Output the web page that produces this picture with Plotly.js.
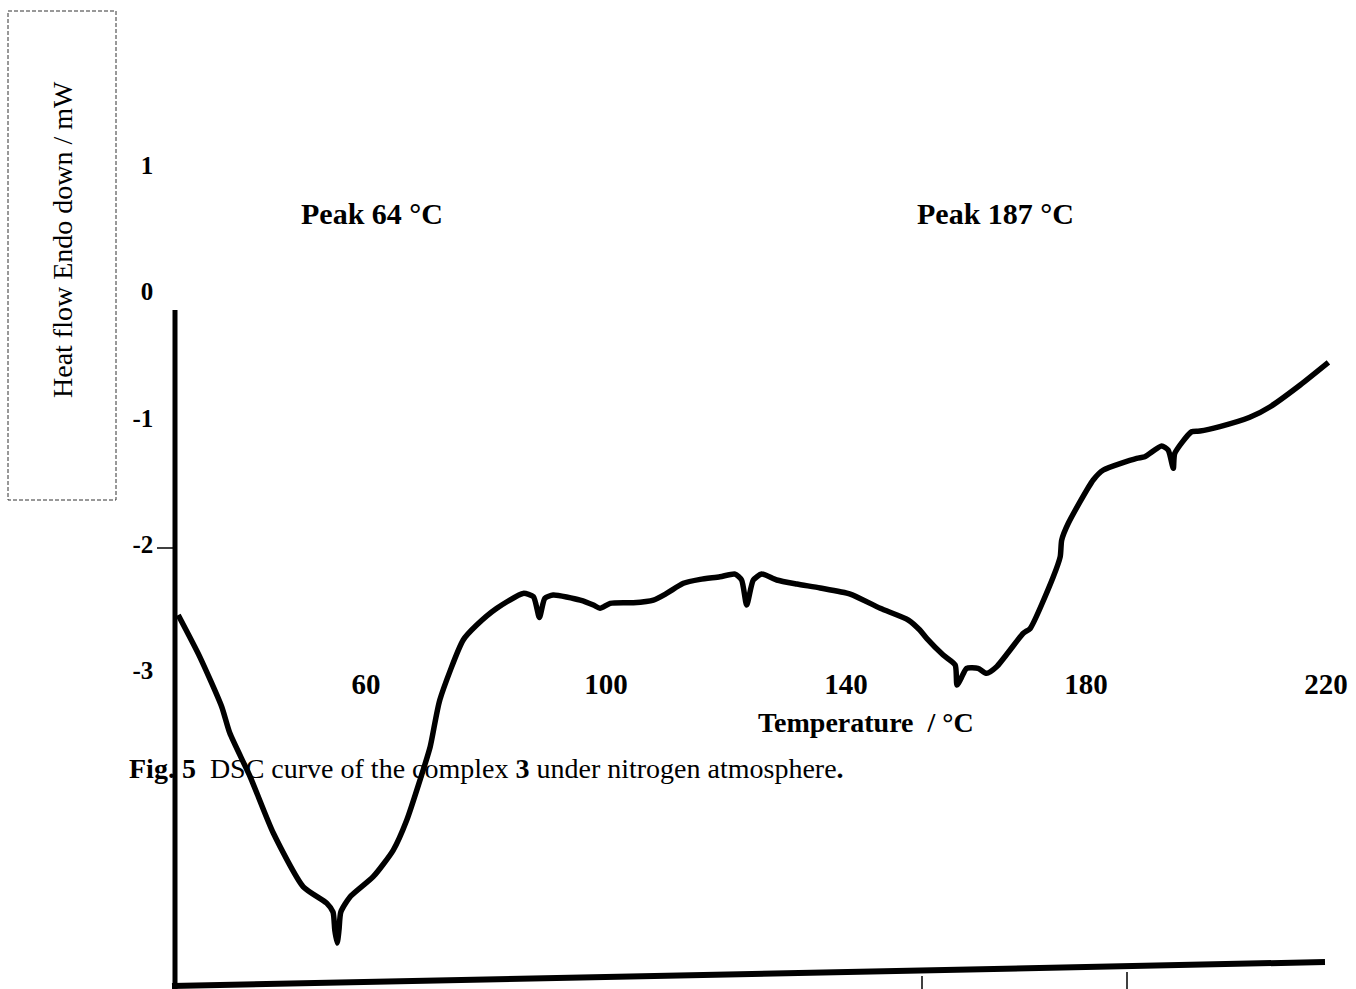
<!DOCTYPE html>
<html>
<head>
<meta charset="utf-8">
<script src="https://cdn.plot.ly/plotly-3.0.1.min.js"></script>
<style>html,body{margin:0;padding:0;background:#fff;}#chart{width:1356px;height:989px;}</style>
</head>
<body>
<div id="chart"></div>
<script>
// Temperature (°C)
const temperature = [28.7, 32.3, 35.95, 37.3, 40.7, 44.55, 49.55, 53.45, 54.5, 54.8, 55.2, 55.5, 55.8, 57.3,
  61.2, 64.55, 66.8, 69, 70.7, 72.3, 76.2, 78.45, 81.8, 86.2, 87.9, 88.9, 89.8, 91.2, 95.7, 97.9, 99,
  100.7, 104.55, 107.9, 110.1, 112.9, 115.7, 119, 121.5, 122.6, 123.45, 124.55, 125.95, 128.45, 131.8,
  135.7, 140.7, 145.7, 150.4, 152.3, 153.45, 156.2, 158.2, 158.5, 159.2, 160.1, 162, 163.45, 165.1,
  169.55, 170.7, 174.55, 175.7, 175.95, 177.05, 181.2, 182.9, 188.45, 189.8, 192.6, 193.7, 194.55,
  194.8, 197.6, 199, 202.3, 207.3, 210.7, 215.7, 220.4];
// Heat flow (mW)
const heatFlow = [-2.561, -2.892, -3.287, -3.496, -3.842, -4.287, -4.713, -4.842, -4.913, -5.055, -5.158, -5.055, -4.913, -4.795,
  -4.633, -4.422, -4.184, -3.868, -3.604, -3.234, -2.759, -2.641, -2.508, -2.390, -2.416, -2.580, -2.429, -2.403, -2.443, -2.482, -2.508,
  -2.469, -2.464, -2.443, -2.390, -2.310, -2.279, -2.258, -2.237, -2.284, -2.482, -2.284, -2.237, -2.284, -2.316,
  -2.347, -2.395, -2.508, -2.601, -2.680, -2.746, -2.878, -2.957, -3.116, -3.060, -2.983, -2.983, -3.023, -2.971,
  -2.706, -2.667, -2.258, -2.100, -1.968, -1.835, -1.492, -1.413, -1.321, -1.308, -1.223, -1.255, -1.400,
  -1.281, -1.110, -1.105, -1.070, -0.996, -0.912, -0.740, -0.561];

const xTickVals = [60, 100, 140, 180, 220];
const xTickText = ['60', '100', '140', '180', '220'];
const yTickVals = [1, 0, -1, -2, -3];
const yTickText = ['1', '0', '-1', '-2', '-3'];

const peakLabels = ['Peak 64 °C', 'Peak 187 °C'];
const xTitle = 'Temperature  / °C';
const yTitle = 'Heat flow Endo down / mW';
const caption = '<b>Fig. 5</b>  DSC curve of the complex <b>3</b> under nitrogen atmosphere<b>.</b>';

const W = 1356, H = 989;
const px = v => v / W;
const py = v => 1 - v / H;
const serif = 'Liberation Serif, Times New Roman, serif';

const trace = {
  x: temperature, y: heatFlow, type: 'scatter', mode: 'lines',
  line: {color: '#000', width: 5.5, shape: 'spline', smoothing: 0.6},
  hoverinfo: 'skip'
};

const layout = {
  width: W, height: H,
  margin: {l: 0, r: 0, t: 0, b: 0},
  paper_bgcolor: '#fff', plot_bgcolor: '#fff',
  showlegend: false,
  xaxis: {
    range: [-1, 225], showgrid: false, zeroline: false, showline: false, ticks: '',
    tickvals: xTickVals, ticktext: xTickText,
    tickfont: {family: serif, size: 29, color: '#000', weight: 'bold'},
    anchor: 'free', position: 0.329
  },
  yaxis: {
    range: [-5.522, 2.308], showgrid: false, zeroline: false, showline: false, ticks: '',
    tickvals: yTickVals, ticktext: yTickText,
    tickfont: {family: serif, size: 25, color: '#000', weight: 'bold'},
    anchor: 'free', position: 0.113
  },
  shapes: [
    {type: 'line', xref: 'paper', yref: 'paper', x0: px(175), x1: px(175), y0: py(310), y1: py(989), line: {color: '#000', width: 5}},
    {type: 'line', xref: 'paper', yref: 'paper', x0: px(172), x1: px(1325), y0: py(986), y1: py(962), line: {color: '#000', width: 6}},
    {type: 'line', xref: 'paper', yref: 'paper', x0: px(157), x1: px(173), y0: py(548), y1: py(548), line: {color: '#000', width: 1.5}},
    {type: 'line', xref: 'paper', yref: 'paper', x0: px(922), x1: px(922), y0: py(976), y1: py(989), line: {color: '#000', width: 1.5}},
    {type: 'line', xref: 'paper', yref: 'paper', x0: px(1127), x1: px(1127), y0: py(972), y1: py(989), line: {color: '#000', width: 1.5}},
    {type: 'rect', xref: 'paper', yref: 'paper', x0: px(8), x1: px(116), y0: py(11), y1: py(500), line: {color: '#333', width: 1, dash: '4px,2px'}}
  ],
  annotations: [
    {text: yTitle, xref: 'paper', yref: 'paper', x: px(62), y: py(240), textangle: -90, showarrow: false,
     font: {family: serif, size: 28, color: '#000'}, xanchor: 'center', yanchor: 'middle'},
    {text: peakLabels[0], xref: 'paper', yref: 'paper', x: px(372), y: py(213), showarrow: false,
     font: {family: serif, size: 30, color: '#000', weight: 'bold'}, xanchor: 'center', yanchor: 'middle'},
    {text: peakLabels[1], xref: 'paper', yref: 'paper', x: px(995), y: py(213), showarrow: false,
     font: {family: serif, size: 30, color: '#000', weight: 'bold'}, xanchor: 'center', yanchor: 'middle'},
    {text: '<b>' + xTitle + '</b>', xref: 'paper', yref: 'paper', x: px(866), y: py(722), showarrow: false,
     font: {family: serif, size: 28, color: '#000'}, xanchor: 'center', yanchor: 'middle'},
    {text: caption, xref: 'paper', yref: 'paper', x: px(127), y: py(768), showarrow: false,
     font: {family: serif, size: 28, color: '#000'}, xanchor: 'left', yanchor: 'middle'}
  ]
};

Plotly.newPlot('chart', [trace], layout, {displayModeBar: false, staticPlot: true});
</script>
</body>
</html>
